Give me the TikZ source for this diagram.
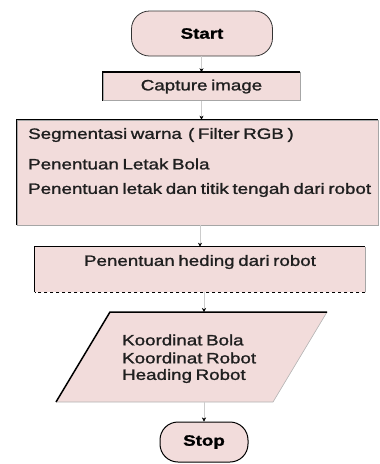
\documentclass[tikz,border=0pt]{standalone}
\usepackage{fontspec}
\setmainfont[FakeStretch=1.25,FakeBold=1.3,WordSpace=0.7]{Liberation Sans}
\usetikzlibrary{arrows.meta}
\definecolor{boxpink}{HTML}{F2DCDB}
\begin{document}
\begin{tikzpicture}[x=1pt,y=-1pt,
  box/.style={draw=gray!70, line width=0.6pt, fill=boxpink, inner sep=0pt},
  term/.style={box, rounded corners=18pt, font=\fontsize{15}{17}\selectfont\bfseries},
  edgeTL/.style={line width=1.5pt, black},
  lbl/.style={font=\fontsize{15}{17}\selectfont, text=black!88, inner sep=0pt},
  conn/.style={draw=gray!40, line width=0.4pt, -{Stealth[length=4pt,width=4pt,black]}}]
\useasboundingbox (0,0) rectangle (380,464);

% Start
\node[term, draw=black!80, line width=0.8pt, minimum width=141pt, minimum height=45pt] (start) at (202,33.5) {Start};
% Capture image
\node[box, minimum width=197pt, minimum height=28pt, lbl] (capture) at (201.5,86.5) {Capture image};
\draw[edgeTL] (capture.south west) -- (capture.north west) -- (capture.north east);
% Big box
\node[box, minimum width=361pt, minimum height=105pt] (seg) at (197.5,172.5) {};
\draw[edgeTL] (seg.south west) -- (seg.north west) -- (seg.north east);
\node[lbl, anchor=west, align=left] (segA) at (28,135) {Segmentasi warna \,( Filter RGB )};
\node[lbl, anchor=west, align=left] (segB) at (28,164) {Penentuan Letak Bola};
\node[lbl, anchor=west, align=left] (segC) at (28,190) {Penentuan letak dan titik tengah dari robot};
% Heading box
\node[box, draw=none, minimum width=330pt, minimum height=45pt] (head) at (200,269.5) {};
\draw[edgeTL] (head.south west) -- (head.north west) -- (head.north east);
\draw[gray!70, line width=0.6pt] (head.north east) -- (head.south east);
\draw[black, line width=0.6pt, dashed] (head.south east) -- (head.south west);
\node[lbl] (headT) at (200,262) {Penentuan heding dari robot};
% Parallelogram
\coordinate (pTL) at (110,312);
\coordinate (pTR) at (327,312);
\coordinate (pBR) at (273,402);
\coordinate (pBL) at (56,402);
\coordinate (pTop) at (204,312);
\coordinate (pBot) at (204,402);
\fill[boxpink] (pTL) -- (pTR) -- (pBR) -- (pBL) -- cycle;
\draw[gray!60, line width=0.6pt] (pTR) -- (pBR) -- (pBL);
\draw[edgeTL] (pBL) -- (pTL) -- (pTR);
\node[lbl, anchor=west] (out1) at (122,340) {Koordinat Bola};
\node[lbl, anchor=west] (out2) at (122,358) {Koordinat Robot};
\node[lbl, anchor=west] (out3) at (122,376) {Heading Robot};
% Stop
\node[term, draw=black, line width=1pt, minimum width=88pt, minimum height=40pt] (stop) at (204,442) {Stop};

% connectors
\draw[conn] (start.south -| capture.north) -- (capture.north);
\draw[conn] (capture.south) -- (capture.south |- seg.north);
\draw[conn] (seg.south -| head.north) -- (head.north);
\draw[conn] (head.south -| pTop) -- (pTop);
\draw[conn] (pBot) -- (stop.north);
\end{tikzpicture}
\end{document}
